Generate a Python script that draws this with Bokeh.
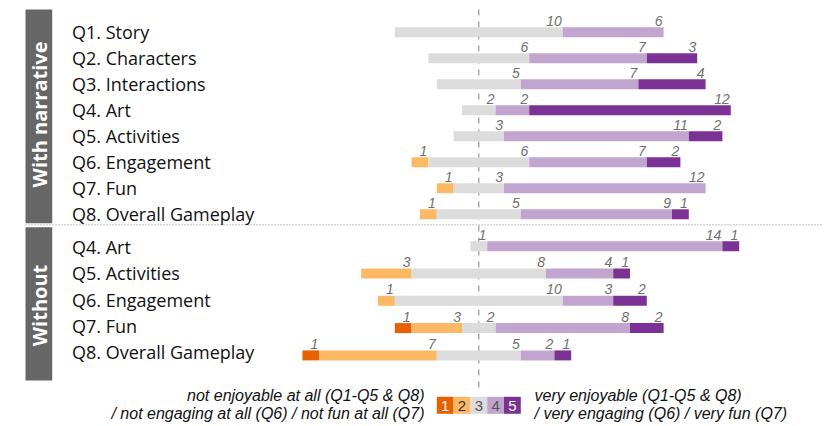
import numpy as np
from bokeh.plotting import figure
from bokeh.models import Range1d, ColumnDataSource
from bokeh.embed import file_html
from bokeh.resources import INLINE
from bokeh.core.properties import value

# ---------------- data ----------------
group_labels = ["With narrative", "Without"]
questions_with = ["Q1. Story", "Q2. Characters", "Q3. Interactions", "Q4. Art",
                  "Q5. Activities", "Q6. Engagement", "Q7. Fun", "Q8. Overall Gameplay"]
questions_without = ["Q4. Art", "Q5. Activities", "Q6. Engagement", "Q7. Fun",
                     "Q8. Overall Gameplay"]

# counts of answers per Likert level (1..5)
lvl1_with = [0, 0, 0, 0, 0, 0, 0, 0]
lvl2_with = [0, 0, 0, 0, 0, 1, 1, 1]
lvl3_with = [10, 6, 5, 2, 3, 6, 3, 5]
lvl4_with = [6, 7, 7, 2, 11, 7, 12, 9]
lvl5_with = [0, 3, 4, 12, 2, 2, 0, 1]

lvl1_without = [0, 0, 0, 1, 1]
lvl2_without = [0, 3, 1, 3, 7]
lvl3_without = [1, 8, 10, 2, 5]
lvl4_without = [14, 4, 3, 8, 2]
lvl5_without = [1, 1, 2, 2, 1]

levels = ["1", "2", "3", "4", "5"]
legend_left = ["not enjoyable at all (Q1-Q5 & Q8)",
               "/ not engaging at all (Q6) / not fun at all (Q7)"]
legend_right = ["very enjoyable (Q1-Q5 & Q8)",
                "/ very engaging (Q6) / very fun (Q7)"]

colors = ["#E66101", "#FDB863", "#DCDCDC", "#C2A5CF", "#7B3294"]
legend_num_colors = ["#ffffff", "#333333", "#555555", "#555555", "#ffffff"]

# ---------------- layout (pixel rows, count units on x) ----------------
W, H = 830, 426
PX_PER_UNIT = 16.8
CENTER_PX = 478.3
x0 = -CENTER_PX / PX_PER_UNIT
x1 = (W - CENTER_PX) / PX_PER_UNIT

def px2x(px):
    return (px - CENTER_PX) / PX_PER_UNIT

rows_with_y = [31.7 + 26.0 * i for i in range(len(questions_with))]
rows_without_y = [245.7 + 27.3 * j for j in range(len(questions_without))]
labels_with_y = [31.5 + 26.0 * i for i in range(len(questions_with))]
labels_without_y = [246.7 + 26.25 * j for j in range(len(questions_without))]

p = figure(width=W, height=H, output_backend="svg", toolbar_location=None,
           x_range=Range1d(x0, x1), y_range=Range1d(H, 0),
           min_border=0, min_border_left=0, min_border_right=0,
           min_border_top=0, min_border_bottom=0)
p.axis.visible = False
p.grid.visible = False
p.outline_line_color = None
p.background_fill_color = "white"
p.border_fill_color = "white"

# center dashed line (behind bars)
p.line(x=[0, 0], y=[9, 389], line_color="#999999", line_width=1.2, line_dash="6 6")
# dotted separator
p.line(x=[px2x(25), px2x(822)], y=[224.3, 224.3], line_color="#8a8a8a",
       line_width=1, line_dash="1 2")

# group side panels
p.quad(left=[px2x(25), px2x(25)], right=[px2x(51.7), px2x(51.7)],
       top=[9, 226.7], bottom=[222.7, 380], fill_color="#666666", line_color=None)
p.text(x=[px2x(38.8), px2x(38.8)], y=[114, 305], text=group_labels, angle=np.pi / 2,
       text_align="center", text_baseline="middle", text_color="white",
       text_font=value("Open Sans"), text_font_style="bold", text_font_size="20px")

# question labels
all_q = questions_with + questions_without
all_ly = labels_with_y + labels_without_y
p.text(x=[px2x(71.5)] * len(all_q), y=all_ly, text=all_q,
       text_align="left", text_baseline="middle", text_color="#111111",
       text_font=value("Open Sans"), text_font_size="18px")

# bars
counts = [list(a) + list(b) for a, b in zip(
    [lvl1_with, lvl2_with, lvl3_with, lvl4_with, lvl5_with],
    [lvl1_without, lvl2_without, lvl3_without, lvl4_without, lvl5_without])]
counts = np.array(counts, dtype=float)  # shape (5, nrows)
row_y = rows_with_y + rows_without_y
start = -(counts[0] + counts[1] + counts[2] / 2.0)
lefts = []
cur = start.copy()
for k in range(5):
    lefts.append(cur.copy())
    cur = cur + counts[k]

lab_x, lab_y, lab_t = [], [], []
for k in range(5):
    src = ColumnDataSource(dict(y=row_y, left=lefts[k], right=lefts[k] + counts[k]))
    p.hbar(y="y", left="left", right="right", height=10, source=src,
           fill_color=colors[k], line_color=None)
    for r in range(counts.shape[1]):
        if counts[k][r] > 0:
            lab_x.append(lefts[k][r] + counts[k][r])
            lab_y.append(row_y[r] - 11.5)
            lab_t.append(str(int(counts[k][r])))

p.text(x=lab_x, y=lab_y, text=lab_t, x_offset=-1, text_align="right",
       text_baseline="middle", text_color="#707070", text_font_style="italic",
       text_font=value("Liberation Sans"), text_font_size="14px")

# legend boxes
lx = [i - 3.0 for i in range(1, 6)]
p.rect(x=lx, y=[404.8] * 5, width=1, height=17, fill_color=colors, line_color=None)
p.text(x=lx, y=[405] * 5, text=levels, text_align="center", text_baseline="middle",
       text_color=legend_num_colors, text_font=value("Liberation Sans"),
       text_font_size="15px")

p.text(x=[px2x(424)] * 2, y=[395, 413], text=legend_left, text_align="right",
       text_baseline="middle", text_color="#111111", text_font_style="italic",
       text_font=value("Liberation Sans"), text_font_size="16px")
p.text(x=[px2x(534)] * 2, y=[395, 413], text=legend_right, text_align="left",
       text_baseline="middle", text_color="#111111", text_font_style="italic",
       text_font=value("Liberation Sans"), text_font_size="16px")

open("out.html", "w").write(file_html(p, INLINE))
